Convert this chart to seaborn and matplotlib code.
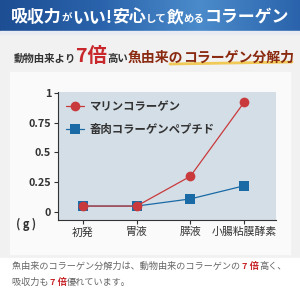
import numpy as np
import pandas as pd
import matplotlib
matplotlib.use("Agg")
import matplotlib.pyplot as plt
import seaborn as sns
from matplotlib.patches import Rectangle
from matplotlib.colors import LinearSegmentedColormap
from matplotlib.lines import Line2D

sns.set_theme(style="white")
plt.rcParams['font.family'] = ['Noto Sans CJK JP', 'DejaVu Sans']

categories = ["初発", "胃液", "膵液", "小腸粘膜酵素"]
marine = [0.05, 0.05, 0.30, 0.92]
livestock = [0.05, 0.05, 0.11, 0.22]
series_names = ["マリンコラーゲン", "畜肉コラーゲンペプチド"]
yticks = [0, 0.25, 0.5, 0.75, 1]
ytick_labels = ["0", "0.25", "0.5", "0.75", "1"]

df = pd.DataFrame({
    "cat": list(range(len(categories))) * 2,
    "val": marine + livestock,
    "series": [series_names[0]] * 4 + [series_names[1]] * 4,
})

RED = "#c93a3c"
BLUE = "#1a6aa6"

fig = plt.figure(figsize=(3, 3), dpi=100)
fig.patch.set_facecolor("#f1f1f1")

bg = fig.add_axes([0, 0, 1, 1])
bg.axis("off")
grad = np.linspace(0, 1, 256).reshape(1, -1)
cmap = LinearSegmentedColormap.from_list("hdr", ["#1d4e93", "#2a63ab", "#4b8bcb", "#2a63ab"])
bg.imshow(grad, extent=[0, 300, 31, 0], aspect="auto", cmap=cmap, zorder=1)
bg.add_patch(Rectangle((0, 31), 300, 3, color="#e8ecf2", zorder=1))
bg.add_patch(Rectangle((0, 258), 300, 42, color="#ffffff", zorder=1))
bg.add_patch(Rectangle((10, 72), 280, 182, color="#fafafa", zorder=0.5))
bg.set_xlim(0, 300)
bg.set_ylim(300, 0)

def runs(ax, x, y, parts):
    fig.canvas.draw()
    r = fig.canvas.get_renderer()
    for txt, kw in parts:
        t = ax.text(x, y, txt, va="baseline", ha="left", zorder=5, **kw)
        bb = t.get_window_extent(renderer=r)
        x += bb.width * 300 / fig.bbox.width
    return x

W = dict(color="white", fontweight="bold")
runs(bg, 11, 22, [
    ("吸収力", dict(fontsize=12.2, **W)),
    ("が", dict(fontsize=7.5, **W)),
    ("いい!", dict(fontsize=12.2, **W)),
    ("安心", dict(fontsize=12.2, **W)),
    ("して", dict(fontsize=7.5, **W)),
    ("飲", dict(fontsize=12.2, **W)),
    ("める", dict(fontsize=7.5, **W)),
    ("コラーゲン", dict(fontsize=12.2, **W)),
])

bg.plot([170, 292], [64, 62], color="#f0c030", lw=2, alpha=0.8, zorder=4)
runs(bg, 14, 62, [
    ("動物由来より", dict(color="#333333", fontsize=7.5, fontweight="bold")),
    ("7倍", dict(color="#c8282c", fontsize=14, fontweight="bold", style="italic")),
    ("高い", dict(color="#333333", fontsize=7.5, fontweight="bold")),
    ("魚由来の", dict(color="#8a2a10", fontsize=10, fontweight="bold")),
    ("コラーゲン分解力", dict(color="#8a2a10", fontsize=10, fontweight="bold")),
])

runs(bg, 12, 269, [
    ("魚由来のコラーゲン分解力は、動物由来のコラーゲンの ", dict(color="#666666", fontsize=6.6)),
    ("7 倍", dict(color="#c8282c", fontsize=6.6, fontweight="bold")),
    ("高く、", dict(color="#666666", fontsize=6.6)),
])
runs(bg, 12, 285, [
    ("吸収力も ", dict(color="#666666", fontsize=6.6)),
    ("7 倍", dict(color="#c8282c", fontsize=6.6, fontweight="bold")),
    ("優れています。", dict(color="#666666", fontsize=6.6)),
])

ax = fig.add_axes([58/300, 1-220/300, 218/300, 128/300])
ax.set_facecolor("#d4dee6")
sns.lineplot(data=df, x="cat", y="val", hue="series", style="series",
             hue_order=series_names[::-1], style_order=series_names[::-1],
             palette={series_names[0]: RED, series_names[1]: BLUE},
             markers={series_names[0]: "o", series_names[1]: "s"},
             dashes=False, markersize=7, markeredgewidth=0, linewidth=0.9,
             ax=ax, legend=False)
ax.set_xlim(-0.466, 3.596)
ax.set_ylim(-0.067, 1.008)
ax.set_xticks(range(len(categories)))
ax.set_xticklabels(categories, fontsize=7.8, color="#333333")
ax.set_yticks(yticks)
ax.set_yticklabels(ytick_labels, fontsize=7.8, color="#333333", fontweight="bold")
ax.set_xlabel("")
ax.set_ylabel("")
for s in ["top", "right"]:
    ax.spines[s].set_visible(False)
for s in ["left", "bottom"]:
    ax.spines[s].set_color("#333333")
    ax.spines[s].set_linewidth(0.8)
ax.tick_params(axis="both", which="both", length=3, width=0.8, color="#333333", direction="out",
               left=True, bottom=True, pad=2)

handles = [Line2D([], [], color=RED, marker="o", markersize=7, lw=0.9, markeredgewidth=0),
           Line2D([], [], color=BLUE, marker="s", markersize=7, lw=0.9, markeredgewidth=0)]
leg = ax.legend(handles, series_names, loc="upper left", frameon=False, fontsize=8.2,
                handlelength=1.6, handletextpad=0.5, labelspacing=0.9,
                bbox_to_anchor=(0.0, 1.0), borderaxespad=0.3)
for t in leg.get_texts():
    t.set_fontweight("bold")
    t.set_color("#333333")

fig.text(16/300, 1-224/300, "( g )", fontsize=8, color="#333333", va="center", ha="left",
         fontweight="bold")

fig.savefig("out.png", dpi=100, facecolor=fig.get_facecolor())
